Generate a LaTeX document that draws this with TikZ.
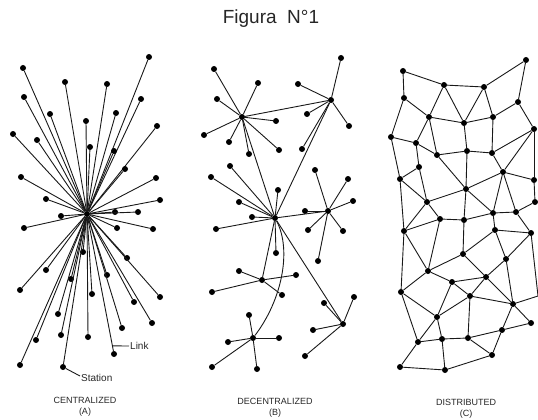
\documentclass[tikz,border=0pt]{standalone}
\usepackage{fontspec}
\setmainfont{Liberation Sans}
\usetikzlibrary{calc}
\begin{document}
\begin{tikzpicture}[x=1pt,y=-1pt,
  st/.style={circle,fill=black,inner sep=0pt,minimum size=6pt},
  ln/.style={line width=0.9pt,black!90},
  lab/.style={font=\fontsize{9}{11}\selectfont,align=center,text=black!85},
  small/.style={font=\fontsize{10}{12}\selectfont,inner sep=1pt,text=black!85}]
\useasboundingbox (0,0) rectangle (538,420);
\node[font=\fontsize{19}{22}\selectfont,text=black!85] (title) at (271,19) {Figura\ \ N°1};
% ---------------- Centralized ----------------
\node[st] (cen) at (87,214) {};
\foreach \x/\y [count=\i] in {23/68,149/57,65/82,107/84,24/97,141/99,50/114,116/113,86/121,157/126,13/134,37/140,90/147,114/151,125/169,21/177,156/178,46/199,160/200,115/212,138/212,61/216,24/228,117/228,153/229,83/252,127/258,46/270,71/279,107/275,20/290,92/294,160/297,134/302,58/314,152/323,122/328,61/335,88/337,36/340,114/354,20/365,63/367}
{ \node[st] (c\i) at (\x,\y) {}; \draw[ln] (cen) -- (c\i); }
\coordinate (lk) at ($(cen)!0.942!(c41)$);
\node[small,anchor=west] (linklbl) at (129,346) {Link};
\draw[ln] (lk) -- (linklbl.west);
\node[small,anchor=west] (stlbl) at (80,378) {Station};
\draw[ln] (c43) -- ($(stlbl.west)+(0,-2)$);
\node[lab] (la) at (85,407) {CENTRALIZED\\(A)};
% ---------------- Decentralized ----------------
\foreach \n/\x/\y in {h1/242/117,h2/331/100,h3/275/218,h4/328/211,h5/262/280,h6/253/338,h7/343/324}
  \node[st] (\n) at (\x,\y) {};
\foreach \x/\y [count=\i] in {214/69,258/83,217/99,276/121,204/135,229/142,249/154,279/150}
  { \node[st] (s1\i) at (\x,\y) {}; \draw[ln] (h1) -- (s1\i); }
\foreach \x/\y [count=\i] in {341/58,298/84,307/114,349/126,302/149}
  { \node[st] (s2\i) at (\x,\y) {}; \draw[ln] (h2) -- (s2\i); }
\foreach \x/\y [count=\i] in {230/166,211/177,278/190,239/202,252/217,216/229,276/253}
  { \node[st] (s3\i) at (\x,\y) {}; \draw[ln] (h3) -- (s3\i); }
\foreach \x/\y [count=\i] in {315/170,348/179,353/201,305/211,308/230,343/231,318/261}
  { \node[st] (s4\i) at (\x,\y) {}; \draw[ln] (h4) -- (s4\i); }
\foreach \x/\y [count=\i] in {239/271,296/275,212/292,282/295}
  { \node[st] (s5\i) at (\x,\y) {}; \draw[ln] (h5) -- (s5\i); }
\foreach \x/\y [count=\i] in {249/315,228/342,279/338,212/367,257/369}
  { \node[st] (s6\i) at (\x,\y) {}; \draw[ln] (h6) -- (s6\i); }
\foreach \x/\y [count=\i] in {354/297,324/303,313/330,305/356}
  { \node[st] (s7\i) at (\x,\y) {}; \draw[ln] (h7) -- (s7\i); }
\draw[ln] (h1) -- (h2);
\draw[ln] (h1) -- (h3);
\draw[ln] (h2) -- (h3);
\draw[ln] (h3) -- (h4);
\draw[ln] (h3) -- (h5);
\draw[ln] (h3) -- (h7);
\draw[ln] (h3) .. controls (292,250) and (282,300) .. (h6);
\node[lab] (lb) at (275,408) {DECENTRALIZED\\(B)};
% ---------------- Distributed ----------------
\foreach \n/\x/\y in {a1/403/71,a2/526/60,a3/444/85,a4/484/87,a5/404/98,a6/518/102,a7/429/117,a8/493/117,a9/464/123,a10/534/129,a11/391/137,a12/416/143,a13/467/151,a14/437/155,a15/492/153,a16/419/167,a17/503/172,a18/400/179,a19/534/180,a20/466/189,a21/427/202,a22/535/202,a23/516/212,a24/493/213,a25/440/219,a26/464/220,a27/404/231,b2/495/230,b3/531/233,b4/463/254,b5/506/259,b6/428/271,b7/486/277,b8/452/282,b9/470/296,b10/401/292,b11/513/304,b12/437/317,b13/531/323,b14/502/330,b15/418/342,b16/442/339,b17/468/338,b18/492/355,b19/400/367,b20/445/370}
  \node[st] (\n) at (\x,\y) {};
\coordinate (e1) at (538,296);
\foreach \p/\q in {a1/a3,a1/a5,a3/a4,a4/a2,a2/a6,a6/a8,a6/a10,a3/a7,a3/a9,a4/a9,a4/a8,a7/a9,a8/a9,a5/a7,a5/a11,a7/a12,a11/a12,a7/a14,a12/a14,a12/a16,a9/a13,a13/a14,a8/a15,a13/a15,a10/a15,a10/a17,a15/a17,a10/a19,a11/a18,a16/a18,a14/a20,a16/a21,a18/a21,a20/a21,a17/a20,a13/a20,a17/a19,a17/a24,a17/a23,a19/a22,a22/a23,a23/a24,a20/a26,a20/a24,a21/a25,a25/a26,a26/a24,a21/a27,a25/a27,a18/a27,a25/b6,a26/b4,a24/b2,a23/b3,b2/b3,b2/b4,b2/b5,b3/b5,b4/b6,b4/b7,b5/b7,b5/b11,b6/b8,b6/b10,a27/b6,a27/b10,b7/b8,b7/b9,b7/b11,b8/b12,b8/b9,b9/b11,b9/b12,b9/b17,b10/b12,b10/b15,b12/b15,b12/b16,b15/b16,b15/b19,b16/b17,b16/b20,b19/b20,b17/b14,b14/b18,b17/b18,b18/b20,b14/b11,b14/b13,b11/b13,b11/e1,b3/e1}
  \draw[ln] (\p) -- (\q);
\node[lab] (lc) at (466,409) {DISTRIBUTED\\(C)};
\end{tikzpicture}
\end{document}
